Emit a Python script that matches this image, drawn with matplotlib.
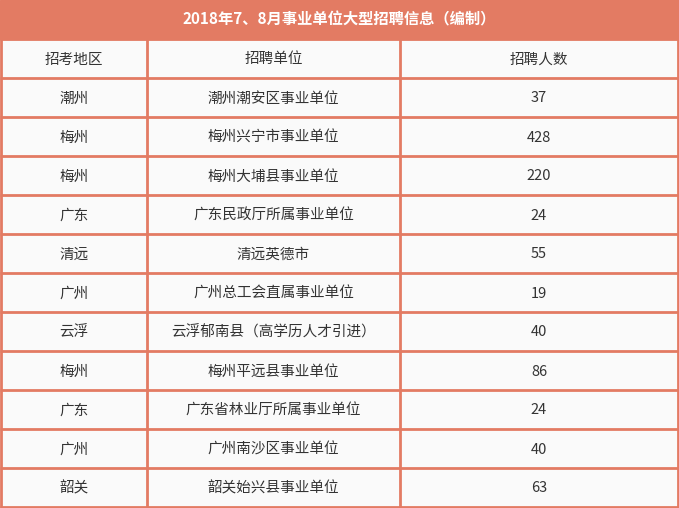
import matplotlib
matplotlib.use("Agg")
import matplotlib.pyplot as plt
from matplotlib.patches import Rectangle

title = "2018年7、8月事业单位大型招聘信息（编制）"
columns = ["招考地区", "招聘单位", "招聘人数"]
regions = ["潮州", "梅州", "梅州", "广东", "清远", "广州", "云浮", "梅州", "广东", "广州", "韶关"]
units = ["潮州潮安区事业单位", "梅州兴宁市事业单位", "梅州大埔县事业单位", "广东民政厅所属事业单位",
         "清远英德市", "广州总工会直属事业单位", "云浮郁南县（高学历人才引进）", "梅州平远县事业单位",
         "广东省林业厅所属事业单位", "广州南沙区事业单位", "韶关始兴县事业单位"]
counts = [37, 428, 220, 24, 55, 19, 40, 86, 24, 40, 63]

plt.rcParams["font.family"] = "Noto Sans CJK SC"
W, H = 679, 508
fig = plt.figure(figsize=(W/100, H/100), dpi=100)
ax = fig.add_axes([0, 0, 1, 1])
ax.set_xlim(0, W); ax.set_ylim(H, 0); ax.axis("off")
orange = "#E37B63"
ax.add_patch(Rectangle((0, 0), W, H, color="#FAFAFA"))
ax.add_patch(Rectangle((0, 0), W, 39, color=orange))
ax.text(W/2, 19.5, title, color="white", fontsize=11, fontweight="bold", ha="center", va="center")

xs = [0.8, 147, 400, 678]
top = 39; rh = 39
rows = [columns] + [[r, u, str(c)] for r, u, c in zip(regions, units, counts)]
for i, row in enumerate(rows):
    y = top + i*rh
    for j, t in enumerate(row):
        ax.text((xs[j]+xs[j+1])/2, y + rh/2 + 1, t, fontsize=10.5, color="#333333", ha="center", va="center")
for i in range(len(rows)+1):
    y = top + i*rh
    ax.plot([0, W], [y, y], color=orange, lw=2, solid_capstyle="butt")
for x in xs:
    ax.plot([x, x], [top, H], color=orange, lw=2, solid_capstyle="butt")
fig.savefig("out.png", dpi=100)
